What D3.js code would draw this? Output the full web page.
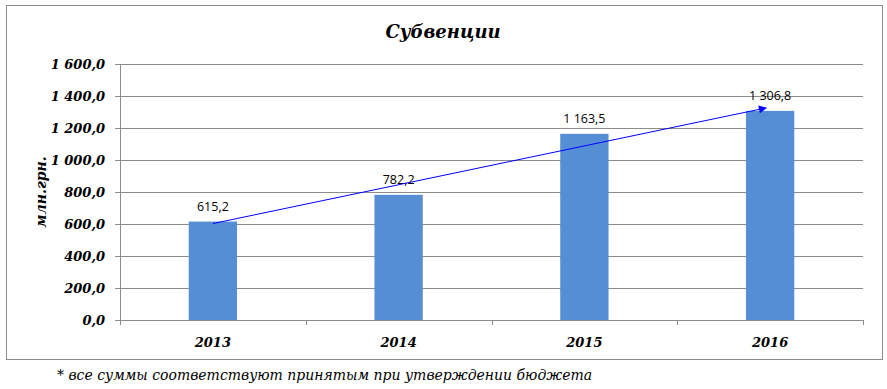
<!DOCTYPE html>
<html>
<head>
<meta charset="utf-8">
<script src="https://cdn.jsdelivr.net/npm/d3@7"></script>
<style>
  body { margin: 0; background: #fff; }
  svg text { fill: #000; }
</style>
</head>
<body>
<div id="chart"></div>
<script>
// chart data
const years = ['2013', '2014', '2015', '2016']
const amounts = [615.2, 782.2, 1163.5, 1306.8]
const amountLabels = ['615,2', '782,2', '1 163,5', '1 306,8']
const yTicks = [0, 200, 400, 600, 800, 1000, 1200, 1400, 1600]

const width = 887,
height = 389,
plotLeft = 120,
plotRight = 863,
plotTop = 64,
plotBottom = 320

const serif = '"DejaVu Serif", serif'

let svg = d3.select('#chart')
.append('svg')
.attr('width', width)
.attr('height', height)

// outer frame
svg.append('rect')
.attr('x', 6.5).attr('y', 5.5)
.attr('width', 876).attr('height', 354)
.attr('fill', 'none')
.attr('stroke', '#8c8c8c')

const x = d3.scaleBand()
.domain(years)
.range([plotLeft, plotRight])
.paddingInner(0.74)
.paddingOuter(0.37)

const xEdge = d3.scaleLinear()
.domain([0, years.length])
.range([plotLeft, plotRight])

const y = d3.scaleLinear()
.domain([0, 1600])
.range([plotBottom, plotTop])

const fmt = d => d3.format(',.1f')(d).replace(/,/g, ' ').replace('.', ',')

// gridlines
svg.append('g')
.selectAll('line')
.data(yTicks)
.enter()
.append('line')
.attr('x1', plotLeft - 5)
.attr('x2', plotRight)
.attr('y1', d => Math.round(y(d)) + 0.5)
.attr('y2', d => Math.round(y(d)) + 0.5)
.attr('stroke', '#8c8c8c')

// y axis line
svg.append('line')
.attr('x1', plotLeft + 0.5).attr('x2', plotLeft + 0.5)
.attr('y1', plotTop).attr('y2', plotBottom)
.attr('stroke', '#8c8c8c')

// x tick marks at category edges
svg.append('g')
.selectAll('line')
.data(d3.range(years.length + 1))
.enter()
.append('line')
.attr('x1', d => Math.round(xEdge(d)) + 0.5)
.attr('x2', d => Math.round(xEdge(d)) + 0.5)
.attr('y1', plotBottom)
.attr('y2', plotBottom + 5)
.attr('stroke', '#8c8c8c')

// y tick labels
svg.append('g')
.selectAll('text')
.data(yTicks)
.enter()
.append('text')
.attr('x', plotLeft - 15)
.attr('y', d => y(d))
.attr('dy', '0.35em')
.attr('text-anchor', 'end')
.style('font', 'italic bold 13px ' + serif)
.text(fmt)

// x labels
svg.append('g')
.selectAll('text')
.data(years)
.enter()
.append('text')
.attr('x', d => x(d) + x.bandwidth() / 2)
.attr('y', plotBottom + 27)
.attr('text-anchor', 'middle')
.style('font', 'italic bold 13px ' + serif)
.text(d => d)

// bars
svg.selectAll('rect.bar')
.data(amounts)
.enter()
.append('rect')
.attr('class', 'bar')
.attr('fill', '#558ed5')
.attr('x', (d, i) => x(years[i]))
.attr('y', d => y(d))
.attr('width', x.bandwidth())
.attr('height', d => plotBottom - y(d))

// value labels
svg.append('g')
.selectAll('text')
.data(amounts)
.enter()
.append('text')
.attr('x', (d, i) => x(years[i]) + x.bandwidth() / 2)
.attr('y', d => y(d) - 11)
.attr('text-anchor', 'middle')
.style('font', '12.5px "Open Sans", sans-serif')
.text((d, i) => amountLabels[i])

// trend arrow
svg.append('defs').append('marker')
.attr('id', 'arrow')
.attr('viewBox', '0 0 10 10')
.attr('refX', 9).attr('refY', 5)
.attr('markerWidth', 10).attr('markerHeight', 8)
.attr('markerUnits', 'userSpaceOnUse')
.attr('orient', 'auto')
.append('path')
.attr('d', 'M0,0 L10,5 L0,10 z')
.attr('fill', '#0000ff')

const first = 0, last = amounts.length - 1
svg.append('line')
.attr('x1', x(years[first]) + x.bandwidth() / 2)
.attr('y1', y(amounts[first]) + 2)
.attr('x2', x(years[last]) + x.bandwidth() / 2 - 4)
.attr('y2', y(amounts[last]) - 3)
.attr('stroke', '#0000ff')
.attr('stroke-width', 1)
.attr('marker-end', 'url(#arrow)')

// title
svg.append('text')
.attr('x', 443)
.attr('y', 38)
.attr('text-anchor', 'middle')
.style('font', 'italic bold 18px ' + serif)
.text('Субвенции')

// y axis title
svg.append('text')
.attr('transform', 'translate(46,' + ((plotTop + plotBottom) / 2) + ') rotate(-90)')
.attr('text-anchor', 'middle')
.style('font', 'italic bold 14px ' + serif)
.text('млн.грн.')

// footnote
svg.append('text')
.attr('x', 57)
.attr('y', 380)
.style('font', 'italic 14px ' + serif)
.text('* все суммы соответствуют принятым при утверждении бюджета')
</script>
</body>
</html>
